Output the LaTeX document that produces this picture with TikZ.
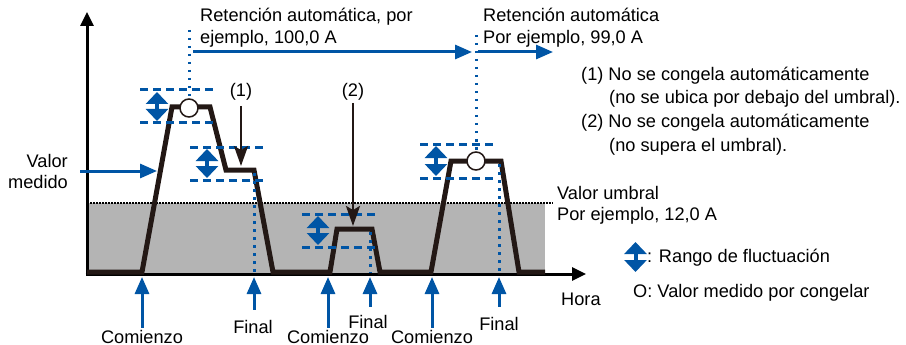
\documentclass[tikz,border=0pt]{standalone}
\usepackage{fontspec}
\setmainfont{Liberation Sans}
\usetikzlibrary{arrows.meta}
\definecolor{hblue}{RGB}{0,85,165}
\definecolor{hgray}{RGB}{180,180,180}
\definecolor{hblack}{RGB}{35,24,21}

\begin{document}
\begin{tikzpicture}[x=1pt,y=-1pt,
    font=\fontsize{18.2}{22.5}\selectfont,
    lbl/.style={inner sep=0pt,anchor=base west},
    lblc/.style={inner sep=0pt,anchor=base},
    bluearrow/.style={hblue,line width=3pt,-{Triangle[length=17pt,width=14pt]}},
    blackarrow/.style={hblack,line width=2.5pt,-{Stealth[length=20pt,width=14pt,inset=4pt]}},
    rangebox/.style={hblue,line width=3pt,dash pattern=on 8pt off 5pt},
    vdots/.style={hblue,line width=3pt,dash pattern=on 2.5pt off 5.5pt},
    rangearrow/.style={hblue,line width=4pt,{Triangle[length=12pt,width=22pt]}-{Triangle[length=12pt,width=22pt]}},
    signal/.style={hblack,line width=5pt,line join=miter},
    frozen/.style={circle,draw=hblack,fill=white,line width=1.5pt,minimum size=18pt,inner sep=0pt}
    ]
    \useasboundingbox (0,0) rectangle (906,345);

    % Threshold area
    \fill[hgray] (87,203) rectangle (545,274);
    \draw[black,line width=1.5pt,dash pattern=on 1.5pt off 1.5pt] (87,203) -- (553,203);

    % Axes
    \draw[black,line width=3pt,-{Triangle[length=14pt,width=13pt]}] (87,275.5) -- (87,12);
    \draw[black,line width=3pt,-{Triangle[length=14pt,width=13pt]}] (85.5,274) -- (586,274);
    \coordinate (xaxis) at (0,277);

    % Measured value
    \draw[signal] (87,272) -- (142,272) -- (172,107) -- (210,107) -- (226,170) -- (254,170)
        -- (273,272) -- (330,272) -- (337,229) -- (372,229) -- (380,272) -- (431,272)
        -- (451,161) -- (501,161) -- (519,272) -- (545,272);

    % Fluctuation ranges
    \foreach \xl/\xr/\yt/\yb/\xa in {140/215/90/123/157, 190/266/147/180/207, 302/377/214/247/318, 420/495/144/178/436} {
        \draw[rangebox] (\xl,\yt) -- (\xr,\yt);
        \draw[rangebox] (\xl,\yb) -- (\xr,\yb);
        \draw[rangearrow] (\xa,\yt+2) -- (\xa,\yb-2);
    }

    % End markers
    \draw[vdots] (254,173) -- (254,273);
    \draw[vdots] (370,232) -- (370,273);
    \draw[vdots] (499,164) -- (499,273);

    % Frozen values
    \node[frozen] (m1) at (189,108) {};
    \node[frozen] (m2) at (476,161) {};
    \draw[vdots] (189,30) -- (m1.north);
    \draw[vdots] (476,35) -- (m2.north);

    % Hold arrows
    \coordinate (h1) at (193,52);
    \coordinate (h2) at (472,52);
    \coordinate (h3) at (478,52);
    \coordinate (h4) at (553,52);
    \draw[bluearrow] (h1) -- (h2);
    \draw[bluearrow] (h3) -- (h4);
    \node[lbl] (r1a) at (200,22) {Retención automática, por};
    \node[lbl] (r1b) at (200,44) {ejemplo, 100,0 A};
    \node[lbl] (r2a) at (483,22) {Retención automática};
    \node[lbl] (r2b) at (483,44) {Por ejemplo, 99,0 A};

    % Cases (1) and (2)
    \node[lblc] (n1) at (241,96) {(1)};
    \node[lblc] (n2) at (353,96) {(2)};
    \coordinate (t1) at (241,166);
    \coordinate (t2) at (353,226);
    \draw[blackarrow,shorten <=6pt] (n1.south) -- (t1);
    \draw[blackarrow,shorten <=3pt] (n2.south) -- (t2);
    \node[lbl] (k1a) at (581,81) {(1) No se congela automáticamente};
    \node[lbl] (k1b) at (609,104) {(no se ubica por debajo del umbral).};
    \node[lbl] (k2a) at (581,128) {(2) No se congela automáticamente};
    \node[lbl] (k2b) at (609,151) {(no supera el umbral).};

    % Measured value label
    \node[inner sep=0pt,anchor=base east] (vm1) at (68,167) {Valor};
    \node[inner sep=0pt,anchor=base east] (vm2) at (68,188) {medido};
    \coordinate (vms) at (80,171);
    \coordinate (vmt) at (157,171);
    \draw[bluearrow] (vms) -- (vmt);

    % Threshold label
    \node[lbl] (th1) at (557,199) {Valor umbral};
    \node[lbl] (th2) at (557,220) {Por ejemplo, 12,0 A};

    % Start and end
    \node[lblc] (c1) at (142,343) {Comienzo};
    \node[lblc] (c2) at (328,343) {Comienzo};
    \node[lblc] (c3) at (432,343) {Comienzo};
    \node[lblc] (f1) at (253,333) {Final};
    \node[lblc] (f2) at (368,328) {Final};
    \node[lblc] (f3) at (499,330) {Final};
    \foreach \n in {c1,c2,c3}
        \draw[bluearrow,shorten <=2pt] (\n.north) -- (\n.north |- xaxis);
    \draw[bluearrow,shorten <=10pt] (f1.north -| 254,0) -- (254,277);
    \draw[bluearrow,shorten <=8pt] (f2.north -| 370,0) -- (370,277);
    \draw[bluearrow,shorten <=10pt] (f3.north) -- (f3.north |- xaxis);
    \node[lbl] (hora) at (561,305) {Hora};

    % Legend
    \draw[rangearrow] (635.5,242) -- (635.5,272);
    \node[lbl] (lg1) at (647,262) {: Rango de fluctuación};
    \node[lbl] (lg2) at (633,297) {O: Valor medido por congelar};
\end{tikzpicture}
\end{document}
